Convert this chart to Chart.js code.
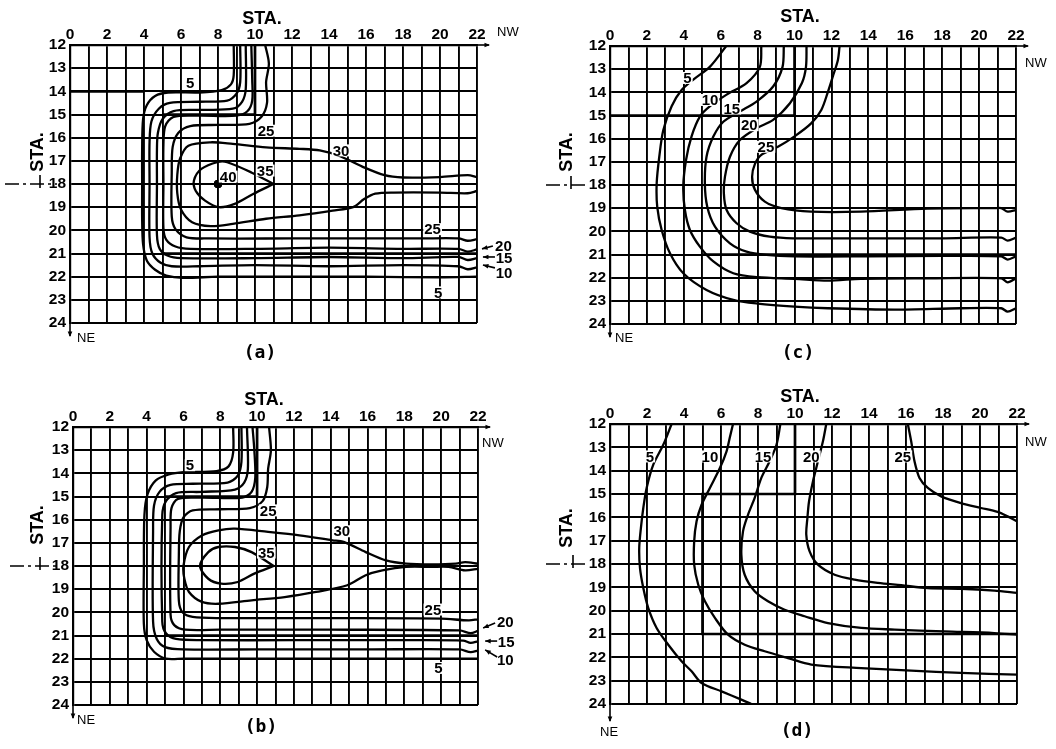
<!DOCTYPE html>
<html>
<head>
<meta charset="utf-8">
<script src="https://cdn.jsdelivr.net/npm/chart.js@4.4.0/dist/chart.umd.min.js"></script>
<style>
  body { margin: 0; background: #fff; }
  #wrap { position: relative; width: 1056px; height: 749px; background: #fff; }
  canvas { position: absolute; }
</style>
</head>
<body>
<div id="wrap">
  <canvas id="chartA" width="528" height="375" style="left:0;top:0"></canvas>
  <canvas id="chartC" width="528" height="375" style="left:528px;top:0"></canvas>
  <canvas id="chartB" width="528" height="375" style="left:0;top:375px"></canvas>
  <canvas id="chartD" width="528" height="375" style="left:528px;top:375px"></canvas>
</div>
<script>
// Estações (eixos)
const xMin = 0, xMax = 22;
const yMin = 12, yMax = 24;
const xTickLabels = ['0', '2', '4', '6', '8', '10', '12', '14', '16', '18', '20', '22'];

// ---- (a) curvas de nível
const a5  = [[8.85,12],[8.85,13.3],[8.7,13.7],[8.2,13.95],[7,14.05],[5.3,14.05],[4.6,14.2],[4.15,14.6],[3.95,15.2],[3.9,16.5],[3.9,18],[3.9,19.5],[3.95,20.6],[4.15,21.3],[4.6,21.7],[5.2,21.95],[6.1,22.05],[8,22],[12,22],[16,22],[20,22.03],[22,22]];
const a10 = [[9.2,12],[9.2,13.6],[9.0,14.1],[8.5,14.4],[7,14.45],[5.4,14.5],[4.8,14.75],[4.4,15.3],[4.3,16.2],[4.3,18],[4.3,20.3],[4.45,21.0],[4.9,21.4],[5.5,21.55],[7,21.55],[10,21.5],[14,21.55],[18,21.5],[21,21.55],[21.5,21.68],[22,21.6]];
const a15 = [[9.5,12],[9.5,13.9],[9.3,14.45],[8.8,14.75],[7,14.8],[5.6,14.85],[5.0,15.2],[4.75,15.8],[4.7,16.5],[4.7,18],[4.7,20.2],[4.85,20.8],[5.3,21.1],[6,21.2],[10,21.2],[14,21.15],[18,21.2],[21,21.15],[21.5,21.28],[22,21.2]];
const a20 = [[9.8,12],[9.85,13.5],[9.85,14.4],[9.6,14.85],[9.0,15.05],[7,15.05],[5.6,15.1],[5.15,15.5],[5.05,16.3],[5.05,18],[5.05,19.9],[5.2,20.4],[5.7,20.7],[6.5,20.8],[10,20.8],[14,20.75],[18,20.8],[21,20.8],[21.5,20.92],[22,20.82]];
const a25 = [[10.55,12],[10.75,12.8],[10.6,13.6],[10.65,14.5],[10.35,15.1],[9.7,15.4],[8,15.45],[6.5,15.5],[5.85,15.8],[5.55,16.4],[5.5,17.5],[5.5,19.4],[5.7,19.95],[6.3,20.3],[7.5,20.35],[12,20.35],[16,20.35],[19,20.35],[21,20.35],[21.5,20.45],[22,20.38]];
const a30 = [[22,17.7],[21.5,17.62],[20,17.7],[18,17.72],[17,17.62],[15.8,17.25],[14.6,16.8],[13.5,16.55],[12.4,16.48],[10.6,16.42],[8.8,16.27],[7.6,16.2],[6.4,16.35],[5.95,16.9],[5.8,17.6],[5.8,18.4],[6.0,19.1],[6.6,19.65],[7.6,19.82],[8.8,19.72],[10.6,19.5],[12.4,19.35],[14.2,19.15],[15.3,19.0],[15.9,18.65],[16.5,18.42],[17.5,18.37],[20,18.37],[21.5,18.4],[22,18.3]];
const a35 = [[11,18],[9.8,17.5],[8.5,17.06],[8.0,17.05],[7.1,17.35],[6.7,17.85],[6.8,18.3],[7.3,18.72],[8.05,19.0],[8.9,18.86],[9.9,18.43],[11,18]];
const a40 = [[8,18]];

// ---- (b)
const b5  = [[8.7,12],[8.7,13.1],[8.45,13.7],[7.8,13.9],[6,13.95],[5.2,14.05],[4.5,14.3],[4.05,14.9],[3.88,15.8],[3.85,18],[3.85,20.5],[4.0,21.2],[4.4,21.7],[5.05,22.0],[6,22.0],[12,22.0],[22,22.0]];
const b10 = [[9.15,12],[9.15,13.5],[8.95,14.1],[8.4,14.4],[6.5,14.45],[5.3,14.5],[4.7,14.8],[4.4,15.4],[4.35,16.5],[4.35,20.4],[4.55,21.15],[5.0,21.5],[6,21.6],[10,21.6],[16,21.6],[21,21.6],[21.6,21.72],[22,21.65]];
const b15 = [[9.45,12],[9.5,13.8],[9.3,14.4],[8.8,14.7],[7,14.8],[5.6,14.85],[5.05,15.2],[4.85,15.8],[4.85,20.4],[5.05,20.9],[5.6,21.15],[7,21.2],[12,21.2],[18,21.2],[21.2,21.22],[21.6,21.32],[22,21.25]];
const b20 = [[9.75,12],[9.85,13],[9.9,14.2],[9.7,14.8],[9.2,15.05],[7,15.05],[5.7,15.1],[5.35,15.5],[5.3,16.3],[5.3,20.1],[5.5,20.55],[6.1,20.75],[8,20.75],[14,20.75],[21,20.78],[21.6,20.9],[22,20.8]];
const b25 = [[10.65,12],[10.75,13],[10.6,13.8],[10.55,14.6],[10.3,15.2],[9.6,15.5],[8,15.55],[6.5,15.6],[6.0,15.9],[5.8,16.5],[5.75,17.5],[5.75,19.5],[5.95,20.0],[6.5,20.2],[8,20.25],[14,20.25],[20,20.27],[21.5,20.35],[22,20.3]];
const b30 = [[22,17.9],[21.3,17.83],[20.8,17.9],[19.5,17.93],[18.1,17.9],[17,17.76],[15.9,17.4],[14.7,16.96],[14.1,16.89],[12.3,16.68],[10.6,16.53],[8.8,16.39],[7.9,16.46],[7.0,16.68],[6.3,17.18],[6.0,18],[6.05,18.55],[6.3,19.12],[7.0,19.55],[7.9,19.63],[9.7,19.48],[11.5,19.34],[13.2,19.12],[14.9,18.83],[15.9,18.4],[16.8,18.19],[18.1,18.04],[19.5,18.04],[20.4,18.04],[21.3,18.19],[22,18.12]];
const b35 = [[10.9,18],[9.7,17.4],[8.8,17.18],[7.9,17.18],[7.35,17.4],[6.9,18],[7.35,18.55],[8.05,18.76],[8.95,18.69],[9.85,18.33],[10.9,18]];

// ---- (c)
const c5  = [[6.3,12],[5.42,12.89],[4.6,13.4],[3.88,13.9],[3.34,14.6],[2.89,15.63],[2.67,16.78],[2.53,17.93],[2.56,18.94],[2.8,19.94],[3.25,20.95],[3.97,21.81],[5.23,22.53],[6.68,22.96],[8.0,23.12],[10,23.25],[11.8,23.32],[15.4,23.38],[19,23.32],[21.2,23.32],[21.55,23.47],[22,23.32]];
const c10 = [[8.2,12],[8.12,12.9],[7.4,13.6],[6.32,14.1],[5.42,14.6],[4.87,15.05],[4.42,15.9],[4.12,16.92],[3.97,18.07],[4.06,19.08],[4.33,19.94],[4.87,20.66],[5.6,21.3],[6.68,21.81],[8.0,21.98],[10,22.05],[11.8,22.13],[13.6,22.05],[17.2,22.03],[21.2,22.03],[21.55,22.2],[22,22.03]];
const c15 = [[9.42,12],[9.35,12.9],[8.84,13.75],[7.94,14.4],[7.04,14.83],[6.14,15.27],[5.6,15.91],[5.23,16.78],[5.14,17.93],[5.27,18.94],[5.69,19.8],[6.5,20.52],[7.4,20.88],[8.48,21.02],[10,21.08],[14,21.08],[18,21.06],[21.2,21.08],[21.55,21.22],[22,21.08]];
const c20 = [[10.65,12],[10.62,12.9],[10.4,13.6],[9.75,14.47],[8.84,15.19],[7.94,15.55],[7.04,16.06],[6.5,16.78],[6.23,17.64],[6.17,18.36],[6.32,19.08],[6.86,19.65],[7.58,20.01],[8.66,20.23],[9.93,20.3],[14,20.3],[18,20.3],[21.2,20.27],[21.55,20.4],[22,20.27]];
const c25 = [[12.44,12],[12.35,12.6],[12.08,13.3],[11.8,14.0],[11.45,14.76],[10.9,15.34],[10.0,15.9],[9.1,16.35],[8.2,16.7],[7.85,17.1],[7.7,17.64],[7.85,18.2],[8.39,18.72],[9.29,19.0],[10.9,19.15],[13.6,19.15],[17.2,19.02],[20.8,19.0],[21.2,19.0],[21.55,19.15],[22,19.08]];

// ---- (d)
const d5  = [[3.33,12],[2.88,12.89],[2.34,13.74],[1.98,14.74],[1.8,15.6],[1.67,16.46],[1.58,17.31],[1.62,18.17],[1.8,19.03],[2.07,19.89],[2.52,20.74],[3.15,21.46],[3.87,22.17],[4.41,22.6],[4.95,23.1],[6.03,23.46],[7.1,23.81],[7.64,24]];
const d10 = [[6.65,12],[6.47,12.6],[6.3,13.17],[5.94,13.89],[5.4,14.74],[4.95,15.46],[4.68,16.17],[4.55,17.03],[4.55,18.03],[4.77,18.89],[5.13,19.6],[5.67,20.31],[6.38,21.03],[7.28,21.46],[8.36,21.74],[9.62,22.03],[10.88,22.31],[13.58,22.46],[16.28,22.57],[18.97,22.67],[22,22.74]];
const d15 = [[9.21,12],[9.0,12.89],[8.63,13.6],[8.18,14.31],[7.82,15.17],[7.46,15.89],[7.19,16.6],[7.1,17.6],[7.28,18.46],[7.82,19.17],[8.54,19.6],[9.44,19.96],[10.52,20.24],[11.78,20.53],[13.58,20.74],[15.38,20.81],[18.08,20.89],[20.77,20.96],[22,21.03]];
const d20 = [[11.69,12],[11.51,12.74],[11.24,13.6],[10.97,14.46],[10.76,15.31],[10.67,16.03],[10.61,16.74],[10.79,17.46],[11.24,18.03],[12.14,18.46],[13.22,18.67],[14.48,18.81],[15.74,18.91],[17.18,19.03],[18.97,19.06],[20.77,19.14],[22,19.24]];
const d25 = [[16.1,12],[16.28,12.74],[16.46,13.6],[16.73,14.31],[17.18,14.74],[17.9,15.1],[18.97,15.39],[20.05,15.6],[20.95,15.77],[21.49,15.96],[22,16.17]];

// Linhas reforçadas da grade
const aHeavy = [[[0,14],[4,14]], [[10,12],[10,15],[5,15]], [[5,21],[22,21]]];
const bHeavy = [[[10,12],[10,15],[5,15]], [[5,21],[22,21]]];
const cHeavy = [[[0,15],[10,15]], [[10,12],[10,15]], [[5,21],[22,21]]];
const dHeavy = [[[10,12],[10,15],[5,15],[5,21],[22,21]]];

// Rótulos das curvas: [texto, x, y]
const aLabels = [['5',6.5,13.65],['25',10.6,15.7],['30',14.65,16.55],['35',10.55,17.42],['40',8.55,17.68],['25',19.6,19.95],['5',19.9,22.68]];
const bLabels = [['5',6.35,13.65],['25',10.6,15.6],['30',14.6,16.5],['35',10.5,17.42],['25',19.55,19.88],['5',19.85,22.4]];
const cLabels = [['5',4.2,13.38],['10',5.42,14.33],['15',6.6,14.7],['20',7.55,15.42],['25',8.45,16.35]];
const dLabels = [['5',2.16,13.39],['10',5.4,13.39],['15',8.27,13.39],['20',10.88,13.39],['25',15.83,13.39]];

// Rótulos laterais com seta: [texto, x, y, x1, y1, x2, y2]
const aSide = [['20',23.43,20.68,22.86,20.68,22.27,20.8],['15',23.46,21.19,22.97,21.15,22.32,21.15],['10',23.46,21.84,22.97,21.62,22.32,21.5]];
const bSide = [['20',23.48,20.42,22.93,20.46,22.28,20.68],['15',23.53,21.28,23.04,21.24,22.39,21.24],['10',23.48,22.06,23.04,21.93,22.39,21.62]];

const TICK_FONT = { family: '"Liberation Sans", Arial, sans-serif', size: 15.5, weight: 'bold' };

function lineSet(points, width, tension) {
    return {
        data: points.map(p => ({ x: p[0], y: p[1] })),
        showLine: true,
        borderColor: '#000',
        borderWidth: width,
        pointRadius: 0,
        tension: tension,
        fill: false
    };
}

function arrowHead(ctx, x1, y1, x2, y2, size) {
    const ang = Math.atan2(y2 - y1, x2 - x1);
    ctx.beginPath();
    ctx.moveTo(x2, y2);
    ctx.lineTo(x2 - size * Math.cos(ang - 0.4), y2 - size * Math.sin(ang - 0.4));
    ctx.lineTo(x2 - size * Math.cos(ang + 0.4), y2 - size * Math.sin(ang + 0.4));
    ctx.closePath();
    ctx.fill();
}

// Plugin para textos e marcas extras de cada painel
function makeDecor(p) {
    return {
        id: 'decor',
        afterDatasetsDraw(chart) {
            const ctx = chart.ctx;
            const xs = chart.scales.x, ys = chart.scales.y;
            const area = chart.chartArea;
            ctx.save();
            ctx.fillStyle = '#000';
            ctx.strokeStyle = '#000';

            // rótulos das curvas
            ctx.font = 'bold 15px "Liberation Sans Narrow", "Liberation Sans", Arial';
            ctx.textAlign = 'center';
            ctx.textBaseline = 'middle';
            p.labels.forEach(l => {
                const px = xs.getPixelForValue(l[1]);
                const py = ys.getPixelForValue(l[2]);
                const w = ctx.measureText(l[0]).width;
                ctx.fillStyle = '#fff';
                ctx.fillRect(px - w / 2 - 1, py - 6, w + 2, 12);
                ctx.fillStyle = '#000';
                ctx.fillText(l[0], px, py + 1);
            });

            // rótulos laterais
            (p.side || []).forEach(s => {
                ctx.fillText(s[0], xs.getPixelForValue(s[1]), ys.getPixelForValue(s[2]) + 1);
                const x1 = xs.getPixelForValue(s[3]), y1 = ys.getPixelForValue(s[4]);
                const x2 = xs.getPixelForValue(s[5]), y2 = ys.getPixelForValue(s[6]);
                ctx.lineWidth = 1.6;
                ctx.beginPath();
                ctx.moveTo(x1, y1);
                ctx.lineTo(x2, y2);
                ctx.stroke();
                arrowHead(ctx, x1, y1, x2, y2, 6);
            });

            // seta NW
            ctx.lineWidth = 1.6;
            ctx.beginPath();
            ctx.moveTo(area.right, area.top);
            ctx.lineTo(area.right + 12, area.top);
            ctx.stroke();
            arrowHead(ctx, area.right, area.top, area.right + 13, area.top, 6);

            // seta NE
            ctx.beginPath();
            ctx.moveTo(area.left, area.bottom);
            ctx.lineTo(area.left, area.bottom + p.neLen);
            ctx.stroke();
            arrowHead(ctx, area.left, area.bottom, area.left, area.bottom + p.neLen + 1, 6);

            ctx.font = '13px "Liberation Sans", Arial';
            ctx.textAlign = 'left';
            ctx.fillText('NW', p.nw[0], p.nw[1]);
            ctx.fillText('NE', p.ne[0], p.ne[1]);

            // títulos STA.
            ctx.font = 'bold 18px "Liberation Sans", Arial';
            ctx.textAlign = 'center';
            ctx.fillText('STA.', p.staTop[0], p.staTop[1]);
            ctx.save();
            ctx.translate(p.staLeft[0], p.staLeft[1]);
            ctx.rotate(-Math.PI / 2);
            ctx.fillText('STA.', 0, 0);
            ctx.restore();

            // linha de centro traço-ponto em STA. 18
            const y18 = ys.getPixelForValue(18);
            ctx.lineWidth = 1.6;
            ctx.setLineDash([14, 4, 3, 4]);
            ctx.beginPath();
            ctx.moveTo(p.dash[0], y18);
            ctx.lineTo(p.dash[1], y18);
            ctx.stroke();
            ctx.setLineDash([]);
            ctx.beginPath();
            ctx.moveTo(p.dash[2], y18 - 9);
            ctx.lineTo(p.dash[2], y18 + 4);
            ctx.stroke();

            // identificação do painel
            ctx.font = 'bold 18px "DejaVu Sans Mono", monospace';
            ctx.fillText(p.panel, p.panelPos[0], p.panelPos[1]);
            ctx.restore();
        }
    };
}

function buildChart(id, p) {
    const datasets = p.lines.map(l => lineSet(l, 2.3, 0.3));
    p.heavy.forEach(h => datasets.push(lineSet(h, 2.7, 0)));
    if (p.dot) {
        datasets.push({
            data: p.dot.map(d => ({ x: d[0], y: d[1] })),
            showLine: false,
            pointRadius: 4,
            pointBackgroundColor: '#000',
            pointBorderColor: '#000'
        });
    }
    return new Chart(document.getElementById(id), {
        type: 'scatter',
        data: { datasets: datasets },
        options: {
            responsive: false,
            animation: false,
            devicePixelRatio: 1,
            layout: { padding: { left: 0, top: 0, right: 528 - p.area[2], bottom: 375 - p.area[3] } },
            plugins: { legend: { display: false }, tooltip: { enabled: false } },
            scales: {
                x: {
                    type: 'linear',
                    position: 'top',
                    min: xMin,
                    max: xMax,
                    afterFit: s => { s.height = p.area[1]; },
                    ticks: {
                        stepSize: 1,
                        autoSkip: false,
                        maxRotation: 0,
                        padding: 1,
                        color: '#000',
                        font: TICK_FONT,
                        callback: v => (v % 2 === 0 ? xTickLabels[v / 2] : '')
                    },
                    grid: { color: '#000', lineWidth: 1.9, drawTicks: false },
                    border: { color: '#000', width: 2.2 }
                },
                y: {
                    type: 'linear',
                    reverse: true,
                    min: yMin,
                    max: yMax,
                    afterFit: s => { s.width = p.area[0]; },
                    ticks: {
                        stepSize: 1,
                        autoSkip: false,
                        padding: 4,
                        color: '#000',
                        font: TICK_FONT
                    },
                    grid: { color: '#000', lineWidth: 1.9, drawTicks: false },
                    border: { color: '#000', width: 2.2 }
                }
            }
        },
        plugins: [makeDecor(p)]
    });
}

buildChart('chartA', {
    area: [70, 45, 477, 323],
    lines: [a5, a10, a15, a20, a25, a30, a35],
    heavy: aHeavy, dot: a40,
    labels: aLabels, side: aSide,
    nw: [497, 32], ne: [77, 338], neLen: 13,
    staTop: [262, 19], staLeft: [38, 152],
    dash: [5, 57, 40], panel: '(a)', panelPos: [260, 353]
});
buildChart('chartC', {
    area: [82, 46, 488, 324],
    lines: [c5, c10, c15, c20, c25],
    heavy: cHeavy,
    labels: cLabels,
    nw: [497, 63], ne: [87, 338], neLen: 13,
    staTop: [272, 17], staLeft: [39, 152],
    dash: [18, 57, 43], panel: '(c)', panelPos: [270, 353]
});
buildChart('chartB', {
    area: [73, 52, 478, 330],
    lines: [b5, b10, b15, b20, b25, b30, b35],
    heavy: bHeavy,
    labels: bLabels, side: bSide,
    nw: [482, 68], ne: [77, 345], neLen: 13,
    staTop: [264, 25], staLeft: [38, 150],
    dash: [10, 58, 40], panel: '(b)', panelPos: [261, 352]
});
buildChart('chartD', {
    area: [82, 49, 489, 329],
    lines: [d5, d10, d15, d20, d25],
    heavy: dHeavy,
    labels: dLabels,
    nw: [497, 67], ne: [72, 357], neLen: 17,
    staTop: [272, 22], staLeft: [39, 153],
    dash: [18, 57, 45], panel: '(d)', panelPos: [269, 356]
});
</script>
</body>
</html>
